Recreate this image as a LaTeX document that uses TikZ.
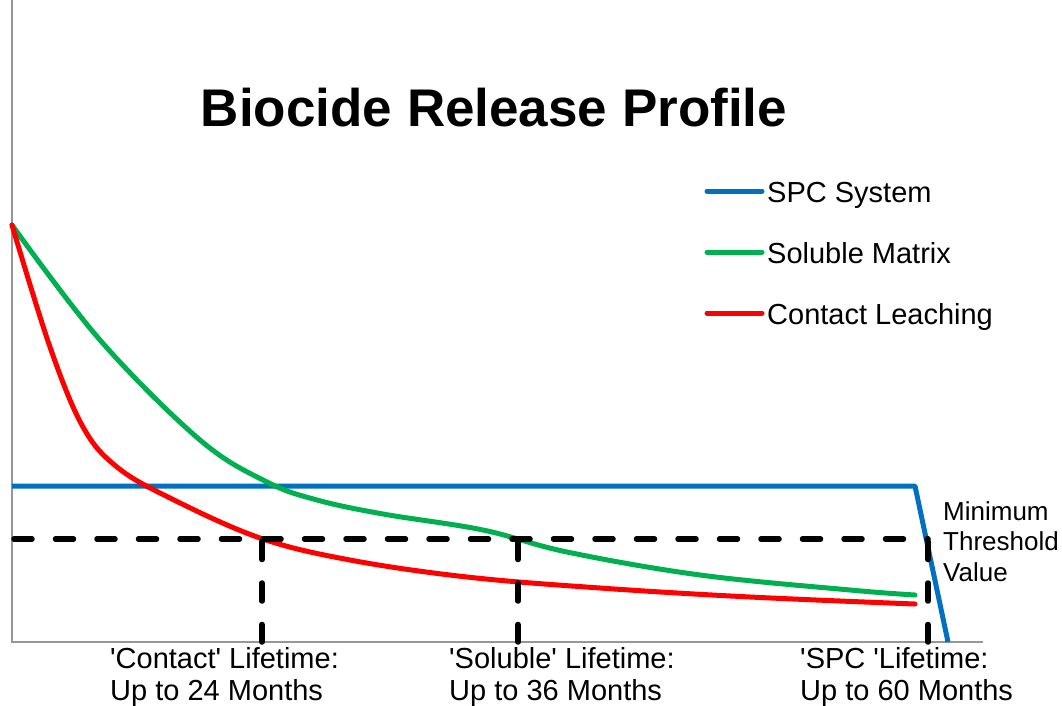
\documentclass[tikz,border=0pt]{standalone}
\usepackage{fontspec}
\setmainfont{Liberation Sans}
\definecolor{spcblue}{RGB}{0,112,192}
\definecolor{solgreen}{RGB}{0,176,80}
\definecolor{conred}{RGB}{255,0,0}
\definecolor{axisgray}{RGB}{150,150,150}
\newcommand{\sq}{\textquotesingle}
\begin{document}
\begin{tikzpicture}[x=1pt,y=-1pt,
    curve/.style={line width=5pt,line cap=round,line join=round},
    thresh/.style={black,line width=5.5pt,line cap=round,dash pattern=on 18pt off 23.5pt},
    lbl/.style={font=\fontsize{29}{32}\selectfont,align=left,inner sep=0pt}]
    \useasboundingbox (0,0) rectangle (1062,706);
    % axes
    \coordinate (o) at (12,642);
    \draw[axisgray,line width=1.5pt] (12,0) -- (o) -- (983,642);
    % title
    \node[font=\fontsize{53}{60}\selectfont\bfseries,inner sep=0pt,anchor=base] (title) at (494,127) {Biocide Release Profile};
    % release curves
    \coordinate (s0) at (12,486);
    \coordinate (s1) at (915,486);
    \coordinate (s2) at (948,642);
    \draw[curve,spcblue,line cap=butt] (s0) -- (s1) -- (s2);
    \draw[curve,solgreen] plot[smooth,tension=0.6] coordinates {(12,225) (100,340) (200,440)
      (267,482) (317,500) (383,514) (483,530) (567,552) (700,575) (850,590) (915,595)};
    \draw[curve,conred] plot[smooth,tension=0.6] coordinates {(12,225) (50,347) (83,427)
      (117,467) (170,498) (260,538) (350,560) (467,577) (600,588) (750,597) (915,604)};
    % threshold and lifetimes
    \coordinate (t0) at (14,539);
    \coordinate (t1) at (928,539);
    \draw[thresh] (t0) -- (t1);
    \foreach \i/\x in {0/262,1/518,2/928}{
      \coordinate (d\i) at (\x,541.5);
      \coordinate (b\i) at (\x,642);
      \draw[thresh] (d\i) -- (b\i);
    }
    % legend
    \foreach \i/\c/\t/\y in {0/spcblue/SPC System/191,1/solgreen/Soluble Matrix/252,2/conred/Contact Leaching/313}{
      \node[lbl,anchor=base west] (leg\i) at (767,\y+11) {\t};
      \coordinate (l\i) at (707,\y);
      \draw[curve,\c] (l\i) -- (762,\y);
    }
    % labels
    \node[lbl,font=\fontsize{26}{30.5}\selectfont,anchor=north west] (minval) at (943,501) {Minimum\\Threshold\\Value};
    \node[lbl,anchor=north west] (lifecon) at (110,647) {\sq Contact\sq{} Lifetime:\\Up to 24 Months};
    \node[lbl,anchor=north west] (lifesol) at (449,647) {\sq Soluble\sq{} Lifetime:\\Up to 36 Months};
    \node[lbl,anchor=north west] (lifespc) at (800,647) {\sq SPC \sq Lifetime:\\Up to 60 Months};
  \end{tikzpicture}
\end{document}
